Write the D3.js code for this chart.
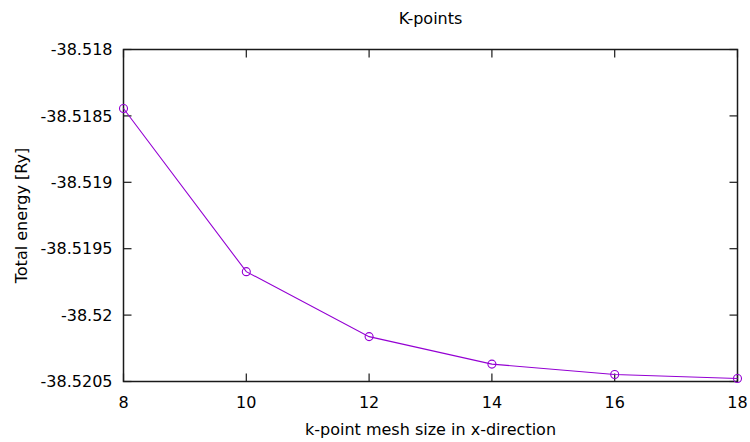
<!DOCTYPE html>
<html>
<head>
<meta charset="utf-8">
<script src="https://cdn.jsdelivr.net/npm/d3@7"></script>
<style>
  body { margin: 0; background: #fff; }
  text { font-family: "DejaVu Sans", sans-serif; fill: #000; }
</style>
</head>
<body>
<div id="chart"></div>
<script>
// k-point mesh sizes and total energies
const meshSizes = [8, 10, 12, 14, 16, 18];
const energies = [-38.518444, -38.519673, -38.520162, -38.520369, -38.520447, -38.520477];
const xTicks = [8, 10, 12, 14, 16, 18];
const yTicks = [-38.518, -38.5185, -38.519, -38.5195, -38.52, -38.5205];

const W = 750, H = 442;
const margin = { top: 49.5, right: 12.5, bottom: 60.5, left: 123.5 };
const width = W - margin.left - margin.right,
    height = H - margin.top - margin.bottom;

const svg = d3.select("#chart").append("svg")
    .attr("width", W)
    .attr("height", H);

const g = svg.append("g")
    .attr("transform", `translate(${margin.left},${margin.top})`);

const x = d3.scaleLinear().domain([8, 18]).range([0, width]);
const y = d3.scaleLinear().domain([-38.5205, -38.518]).range([height, 0]);

const tickLen = 8;
const axisColor = "#1a1a1a";
const fs = "16px";

// frame
g.append("rect")
    .attr("width", width)
    .attr("height", height)
    .attr("fill", "none")
    .attr("stroke", axisColor)
    .attr("stroke-width", 1.5);

// ticks on all four sides (mirrored, pointing inward)
xTicks.forEach(t => {
    g.append("line").attr("x1", x(t)).attr("x2", x(t)).attr("y1", height).attr("y2", height - tickLen)
        .attr("stroke", axisColor).attr("stroke-width", 1.2);
    g.append("line").attr("x1", x(t)).attr("x2", x(t)).attr("y1", 0).attr("y2", tickLen)
        .attr("stroke", axisColor).attr("stroke-width", 1.2);
    g.append("text")
        .attr("x", x(t))
        .attr("y", height + 26)
        .attr("text-anchor", "middle")
        .style("font-size", fs)
        .text(t);
});

yTicks.forEach(t => {
    g.append("line").attr("x1", 0).attr("x2", tickLen).attr("y1", y(t)).attr("y2", y(t))
        .attr("stroke", axisColor).attr("stroke-width", 1.2);
    g.append("line").attr("x1", width).attr("x2", width - tickLen).attr("y1", y(t)).attr("y2", y(t))
        .attr("stroke", axisColor).attr("stroke-width", 1.2);
    g.append("text")
        .attr("x", -11)
        .attr("y", y(t))
        .attr("dy", "0.36em")
        .attr("text-anchor", "end")
        .style("font-size", fs)
        .text(t);
});

// data
const data = meshSizes.map((m, i) => ({ m, e: energies[i] }));
const color = "#9400d3";

g.append("path")
    .datum(data)
    .attr("fill", "none")
    .attr("stroke", color)
    .attr("stroke-width", 1.1)
    .attr("d", d3.line().x(d => x(d.m)).y(d => y(d.e)));

g.selectAll("circle.pt")
    .data(data)
    .enter().append("circle")
    .attr("class", "pt")
    .attr("cx", d => x(d.m))
    .attr("cy", d => y(d.e))
    .attr("r", 4)
    .attr("fill", "none")
    .attr("stroke", color)
    .attr("stroke-width", 1.1);

// labels
svg.append("text")
    .attr("x", margin.left + width / 2)
    .attr("y", 24)
    .attr("text-anchor", "middle")
    .style("font-size", fs)
    .text("K-points");

svg.append("text")
    .attr("x", margin.left + width / 2)
    .attr("y", 435)
    .attr("text-anchor", "middle")
    .style("font-size", fs)
    .text("k-point mesh size in x-direction");

svg.append("text")
    .attr("transform", `translate(27,${margin.top + height / 2}) rotate(-90)`)
    .attr("text-anchor", "middle")
    .style("font-size", fs)
    .text("Total energy [Ry]");
</script>
</body>
</html>
